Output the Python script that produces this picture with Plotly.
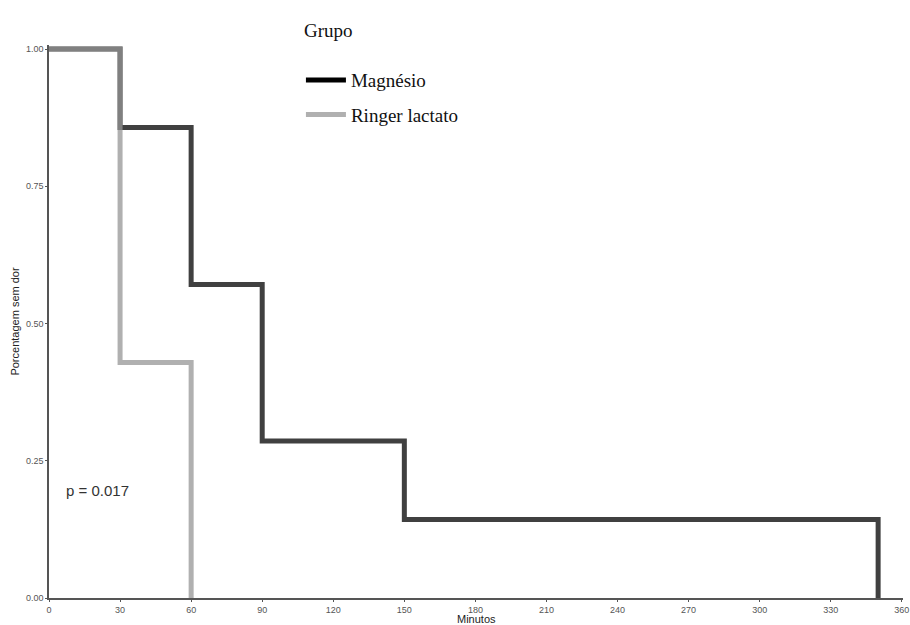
import plotly.graph_objects as go

# Kaplan-Meier estimates (time in minutes, proportion without pain)
mag_time = [0, 30, 60, 90, 150, 350]
mag_surv = [1.0, 0.857, 0.571, 0.286, 0.143, 0.0]
rl_time = [0, 30, 60]
rl_surv = [1.0, 0.429, 0.0]

group_names = ["Magnésio", "Ringer lactato"]
x_ticks = [0, 30, 60, 90, 120, 150, 180, 210, 240, 270, 300, 330, 360]
y_ticks = [0.0, 0.25, 0.5, 0.75, 1.0]
p_label = "p = 0.017"

fig = go.Figure()

# survival curves (semi-transparent so the shared segment blends)
fig.add_trace(go.Scatter(x=mag_time, y=mag_surv, mode="lines", line_shape="hv",
                         line=dict(color="rgba(0,0,0,0.75)", width=5),
                         showlegend=False, hoverinfo="skip"))
fig.add_trace(go.Scatter(x=rl_time, y=rl_surv, mode="lines", line_shape="hv",
                         line=dict(color="rgba(150,150,150,0.75)", width=5),
                         showlegend=False, hoverinfo="skip"))

# legend entries
fig.add_trace(go.Scatter(x=[None], y=[None], mode="lines", name=group_names[0],
                         line=dict(color="#000000", width=5), legendgroup="a"))
fig.add_trace(go.Scatter(x=[None], y=[None], mode="lines", name=group_names[1],
                         line=dict(color="#b0b0b0", width=5), legendgroup="b"))

axis_common = dict(
    showgrid=False, zeroline=False, showline=True, linecolor="#555555", linewidth=1.5,
    ticks="outside", ticklen=2, tickcolor="#555555", tickwidth=1, automargin=False,
    tickfont=dict(family="Liberation Sans", size=9, color="#555555"),
)

fig.update_layout(
    width=910, height=625,
    margin=dict(l=49, r=7, t=45, b=27),
    plot_bgcolor="white", paper_bgcolor="white",
    xaxis=dict(range=[0, 360.5], tickvals=x_ticks, **axis_common),
    yaxis=dict(range=[0, 1.0073], tickvals=y_ticks, tickformat=".2f",
               title=dict(text="Porcentagem sem dor", standoff=4,
                          font=dict(family="Liberation Sans", size=11, color="#222222")),
               **axis_common),
    legend=dict(x=0.295, y=0.971, xanchor="left", yanchor="top",
                font=dict(family="Liberation Serif", size=19, color="#111111"),
                tracegroupgap=7, itemwidth=40, bgcolor="rgba(0,0,0,0)"),
    showlegend=True,
)

# legend title, x-axis title and p-value
plot_w = 910 - 49 - 7
plot_h = 625 - 45 - 27
fig.add_annotation(text="Grupo", x=(302 - 49) / plot_w, y=(625 - 27 - 30) / plot_h,
                   xref="paper", yref="paper", xanchor="left", yanchor="middle",
                   showarrow=False,
                   font=dict(family="Liberation Serif", size=19, color="#111111"))
fig.add_annotation(text="Minutos", x=0.5, y=-20.5 / plot_h,
                   xref="paper", yref="paper", xanchor="center", yanchor="middle",
                   showarrow=False, borderpad=0,
                   font=dict(family="Liberation Sans", size=11, color="#222222"))
fig.add_annotation(text=p_label, x=6.3, y=0.195, xref="x", yref="y",
                   xanchor="left", yanchor="middle", showarrow=False,
                   font=dict(family="Liberation Sans", size=15, color="#333333"))

fig.write_html("out.html")
